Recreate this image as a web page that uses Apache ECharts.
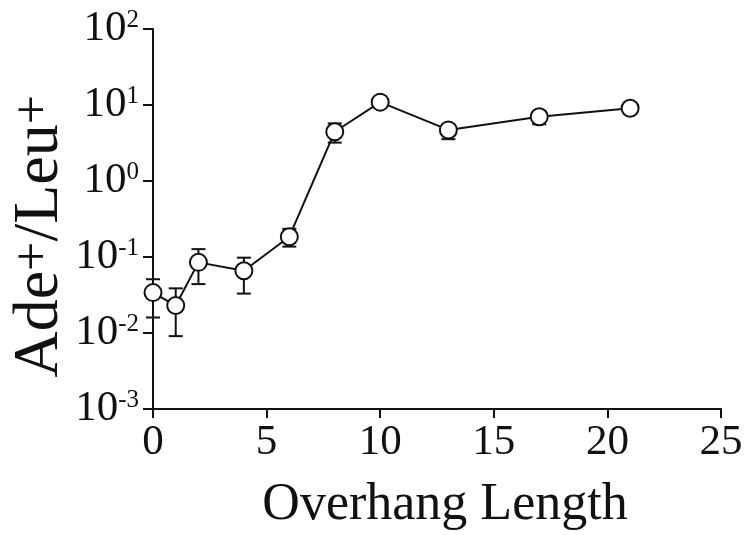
<!DOCTYPE html>
<html><head><meta charset="utf-8">
<script src="https://cdn.jsdelivr.net/npm/echarts@6/dist/echarts.min.js"></script>
<style>html,body{margin:0;padding:0;background:#fff}#c{width:749px;height:535px}</style>
</head><body><div id="c"></div>
<script>
var overhang = [0, 1, 2, 4, 6, 8, 10, 13, 17, 21];
var ratio    = [0.034, 0.023, 0.085, 0.066, 0.185, 4.45, 10.9, 4.7, 7.0, 9.05];
var errLow   = [0.016, 0.0091, 0.044, 0.033, 0.137, 3.2, 10.9, 3.55, 5.57, 9.05];
var errHigh  = [0.051, 0.0387, 0.127, 0.098, 0.235, 5.73, 10.9, 5.5, 8.3, 9.05];
var xTicks = [0, 5, 10, 15, 20, 25];
var yTickExp = [-3, -2, -1, 0, 1, 2];

var FONT = '"Liberation Serif", "Times New Roman", serif';
var chart = echarts.init(document.getElementById('c'));
var lineData = overhang.map(function (x, i) { return [x, ratio[i]]; });
var errData = overhang.map(function (x, i) { return [x, errLow[i], errHigh[i]]; });

chart.setOption({
  animation: false,
  backgroundColor: '#fff',
  grid: { left: 153, right: 28, top: 29, bottom: 126, containLabel: false, outerBoundsMode: 'none' },
  xAxis: {
    type: 'value', min: 0, max: 25, interval: 5,
    axisLine: { show: true, lineStyle: { color: '#111', width: 2 } },
    axisTick: { show: true, length: 9, lineStyle: { color: '#111', width: 2 } },
    splitLine: { show: false },
    axisLabel: { color: '#111', fontFamily: FONT, fontSize: 43, margin: 12,
      formatter: function (v) { return xTicks.indexOf(v) >= 0 ? String(v) : ''; } },
    name: 'Overhang Length', nameLocation: 'middle', nameGap: 70,
    nameTextStyle: { color: '#111', fontFamily: FONT, fontSize: 52, padding: [0, 0, 0, 16] }
  },
  yAxis: {
    type: 'log', logBase: 10, min: 0.001, max: 100,
    axisLine: { show: true, lineStyle: { color: '#111', width: 2 } },
    axisTick: { show: true, length: 10, lineStyle: { color: '#111', width: 2 } },
    minorTick: { show: false },
    splitLine: { show: false },
    axisLabel: {
      margin: 14, color: '#111', fontFamily: FONT,
      formatter: function (v) {
        var e = Math.round(Math.log(v) / Math.LN10);
        return yTickExp.indexOf(e) >= 0 ? '{b|10}{s|' + e + '}' : '';
      },
      rich: {
        b: { fontFamily: FONT, fontSize: 43, color: '#111' },
        s: { fontFamily: FONT, fontSize: 25, color: '#111', verticalAlign: 'top', padding: [0, 0, 14, 0] }
      }
    }
  },
  graphic: [{
    type: 'text', left: 8, top: 95, rotation: Math.PI / 2,
    style: {
      text: 'Ade{s|+}/Leu{s|+}',
      font: '64px ' + FONT, fill: '#111',
      rich: { s: { fontFamily: FONT, fontSize: 52, fill: '#111', verticalAlign: 'top', padding: [0, 0, 12, 0] } }
    }
  }],
  series: [{
    type: 'custom', z: 2,
    data: errData,
    renderItem: function (params, api) {
      var x = api.value(0);
      var lo = api.coord([x, api.value(1)]);
      var hi = api.coord([x, api.value(2)]);
      var w = 7;
      var st = { stroke: '#111', lineWidth: 2 };
      return { type: 'group', children: [
        { type: 'line', shape: { x1: lo[0], y1: lo[1], x2: hi[0], y2: hi[1] }, style: st },
        { type: 'line', shape: { x1: lo[0] - w, y1: lo[1], x2: lo[0] + w, y2: lo[1] }, style: st },
        { type: 'line', shape: { x1: hi[0] - w, y1: hi[1], x2: hi[0] + w, y2: hi[1] }, style: st }
      ] };
    }
  }, {
    type: 'line', z: 5,
    data: lineData,
    symbol: 'circle', symbolSize: 17,
    lineStyle: { color: '#111', width: 2 },
    itemStyle: { color: '#fff', borderColor: '#111', borderWidth: 2 }
  }]
});
</script></body></html>
